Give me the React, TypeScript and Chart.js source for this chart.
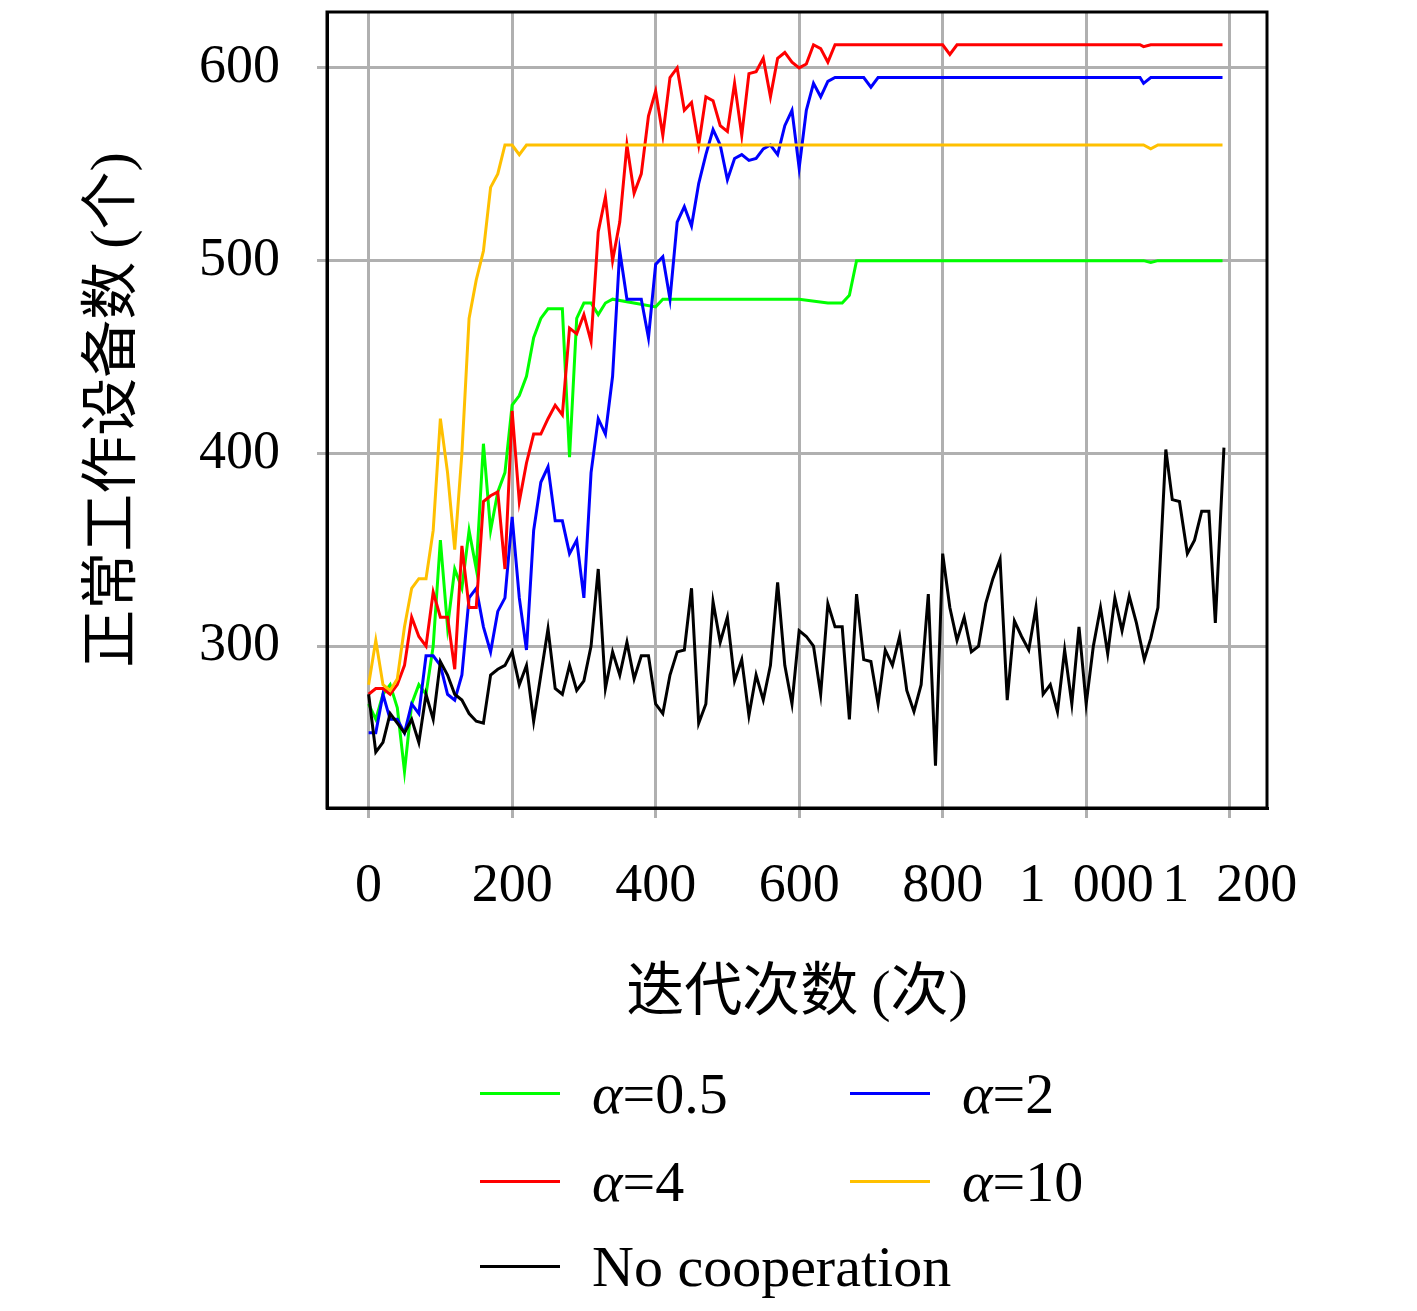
import React, { useEffect, useRef } from "react";
import { Chart, registerables } from "chart.js";
Chart.register(...registerables);

type P = [number, number];
const green05: P[] = [[0,270],[10,262],[20,275],[30,280],[40,268],[50,235],[60,270],[70,280],[80,275],[90,300],[100,355],[110,310],[120,340],[130,330],[140,360],[150,340],[160,405],[170,360],[180,380],[190,390],[200,425],[210,430],[220,440],[230,460],[240,470],[250,475],[260,475],[270,475],[280,398],[290,470],[300,478],[310,478],[320,472],[330,478],[340,480],[400,476],[410,480],[600,480],[640,478],[660,478],[670,482],[680,500],[1080,500],[1090,499],[1100,500],[1190,500]];
const blue2: P[] = [[0,255],[10,255],[20,275],[30,262],[40,262],[50,255],[60,270],[70,265],[80,295],[90,295],[100,290],[110,275],[120,272],[130,285],[140,325],[150,330],[160,310],[170,297],[180,318],[190,325],[200,367],[210,325],[220,298],[230,360],[240,385],[250,393],[260,365],[270,365],[280,348],[290,355],[300,325],[310,390],[320,418],[330,410],[340,440],[350,505],[360,480],[370,480],[380,480],[390,460],[400,498],[410,502],[420,480],[430,520],[440,528],[450,518],[460,540],[470,555],[480,568],[490,560],[500,542],[510,553],[520,555],[530,552],[540,553],[550,558],[560,560],[570,555],[580,570],[590,578],[600,548],[610,578],[620,592],[630,585],[640,593],[650,595],[690,595],[700,590],[710,595],[1075,595],[1080,592],[1090,595],[1190,595]];
const red4: P[] = [[0,275],[10,278],[20,278],[30,275],[40,280],[50,290],[60,315],[70,305],[80,300],[90,328],[100,315],[110,315],[120,288],[130,352],[140,320],[150,320],[160,375],[170,378],[180,380],[190,340],[200,422],[210,375],[220,395],[230,410],[240,410],[250,418],[260,425],[270,420],[280,465],[290,462],[300,472],[310,458],[320,515],[330,533],[340,500],[350,520],[360,560],[370,535],[380,545],[390,575],[400,588],[410,565],[420,595],[430,600],[440,578],[450,582],[460,560],[470,585],[480,583],[490,570],[500,567],[510,592],[520,565],[530,597],[540,598],[550,605],[560,585],[570,605],[580,608],[590,603],[600,600],[610,602],[620,612],[630,610],[640,603],[650,612],[800,612],[810,607],[820,612],[1075,612],[1080,611],[1090,612],[1190,612]];
const yellow10: P[] = [[0,280],[10,303],[20,280],[30,277],[40,283],[50,310],[60,330],[70,335],[80,335],[90,360],[100,418],[110,390],[120,350],[130,400],[140,470],[150,490],[160,505],[170,538],[180,545],[190,560],[200,560],[210,555],[220,560],[230,560],[1080,560],[1090,558],[1100,560],[1190,560]];
const noCoop: P[] = [[0,275],[10,245],[20,250],[30,265],[40,260],[50,255],[60,262],[70,250],[80,275],[90,262],[100,292],[110,285],[120,275],[130,272],[140,265],[150,261],[160,260],[170,285],[180,288],[190,290],[200,297],[210,280],[220,290],[230,261],[240,285],[250,309],[260,278],[270,275],[280,290],[290,277],[300,282],[310,300],[320,340],[330,278],[340,297],[350,285],[360,302],[370,283],[380,295],[390,295],[400,270],[410,265],[420,285],[430,297],[440,298],[450,330],[460,260],[470,270],[480,323],[490,302],[500,315],[510,282],[520,293],[530,264],[540,285],[550,272],[560,290],[570,333],[580,290],[590,270],[600,308],[610,305],[620,300],[630,275],[640,322],[650,310],[660,310],[670,262],[680,327],[690,293],[700,292],[710,270],[720,298],[730,290],[740,305],[750,277],[760,266],[770,280],[780,327],[790,238],[800,348],[810,320],[820,303],[830,315],[840,297],[850,300],[860,322],[870,335],[880,345],[890,272],[900,313],[910,305],[920,298],[930,320],[940,275],[950,280],[960,266],[970,298],[980,270],[990,310],[1000,270],[1010,300],[1020,320],[1030,296],[1040,325],[1050,308],[1060,326],[1070,312],[1081,293],[1090,304],[1100,320],[1111,402],[1120,376],[1130,375],[1141,348],[1151,355],[1161,370],[1171,370],[1180,312],[1192,403]];
const xTicks = [0, 200, 400, 600, 800, 1000, 1200];
const yTicks = [300, 400, 500, 600];

const serif = "'Liberation Serif', 'DejaVu Serif', serif";
const cjk = "'Noto Sans CJK SC', serif";

const series = [
  { label: "α=0.5", data: green05, color: "#00ff00" },
  { label: "α=2", data: blue2, color: "#0000ff" },
  { label: "α=4", data: red4, color: "#ff0000" },
  { label: "α=10", data: yellow10, color: "#ffc000" },
  { label: "No cooperation", data: noCoop, color: "#000000" },
];

const fmt = (v: number) => (v >= 1000 ? `${Math.floor(v / 1000)}\u2002${String(v % 1000).padStart(3, "0")}` : String(v));

export default function App() {
  const ref = useRef<HTMLCanvasElement>(null);
  useEffect(() => {
    const frame = {
      id: "frame",
      afterDraw(c: any) {
        const { ctx, chartArea: a } = c;
        ctx.save();
        ctx.strokeStyle = "#000";
        ctx.lineWidth = 3;
        ctx.strokeRect(a.left, a.top, a.right - a.left, a.bottom - a.top);
        const ys = c.scales.y;
        ctx.fillStyle = "#000";
        ctx.font = `54px ${serif}`;
        ctx.textAlign = "right";
        ctx.textBaseline = "middle";
        yTicks.forEach((v) => ctx.fillText(String(v), a.left - 47, ys.getPixelForValue(v)));
        ctx.restore();
      },
    };
    const chart = new Chart(ref.current!, {
      type: "line",
      data: {
        datasets: [...series].reverse().map((s) => ({
          label: s.label,
          data: s.data.map(([x, y]) => ({ x, y })),
          borderColor: s.color,
          borderWidth: 3,
          pointRadius: 0,
          tension: 0,
        })),
      },
      options: {
        animation: false,
        responsive: false,
        layout: { padding: { left: 0, top: 4, right: 142, bottom: 0 } },
        plugins: { legend: { display: false }, tooltip: { enabled: false } },
        scales: {
          x: {
            type: "linear",
            min: -58,
            max: 1252,
            afterBuildTicks: (s: any) => { s.ticks = xTicks.map((v) => ({ value: v })); },
            afterFit: (s: any) => { s.height = 495; },
            ticks: { callback: (v: any) => fmt(Number(v)), color: "#000", font: { family: serif, size: 54 }, padding: 36, maxRotation: 0, autoSkip: false },
            grid: { color: "#b0b0b0", lineWidth: 3, tickLength: 10 },
            border: { color: "#000", width: 3 },
          },
          y: {
            type: "linear",
            min: 216,
            max: 629,
            afterBuildTicks: (s: any) => { s.ticks = yTicks.map((v) => ({ value: v })); },
            afterFit: (s: any) => { s.width = 319; },
            ticks: { display: false },
            grid: { color: "#b0b0b0", lineWidth: 3, tickLength: 10 },
            border: { color: "#000", width: 3 },
          },
        },
      },
      plugins: [frame],
    } as any);
    return () => chart.destroy();
  }, []);

  const legendItem = (s: any, left: number, top: number) => (
    <div key={s.label} style={{ position: "absolute", left, top, display: "flex", alignItems: "center" }}>
      <div style={{ width: 80, height: 3, background: s.color, marginRight: 32 }} />
      <span style={{ fontFamily: serif, fontSize: 58, whiteSpace: "nowrap" }}>
        {s.label.startsWith("α") ? (<><i>α</i>{s.label.slice(1)}</>) : s.label}
      </span>
    </div>
  );

  return (
    <div style={{ position: "relative", width: 1401, height: 1295 }}>
      <canvas ref={ref} width={1401} height={1295} style={{ width: 1401, height: 1295 }} />
      <div style={{ position: "absolute", left: 797 - 8 - 300, width: 600, top: 935, textAlign: "center", fontSize: 58, fontFamily: cjk }}>
        迭代次数 <span style={{ fontFamily: serif }}>(</span>次<span style={{ fontFamily: serif }}>)</span>
      </div>
      <div style={{ position: "absolute", left: 97 - 350, top: 402 - 40, width: 700, height: 80, textAlign: "center", fontSize: 58, lineHeight: "80px", fontFamily: cjk, transform: "rotate(-90deg)" }}>
        正常工作设备数 <span style={{ fontFamily: serif }}>(</span>个<span style={{ fontFamily: serif }}>)</span>
      </div>
      {legendItem(series[0], 472, 1052)}
      {legendItem(series[1], 842, 1052)}
      {legendItem(series[2], 472, 1140)}
      {legendItem(series[3], 842, 1140)}
      {legendItem(series[4], 472, 1225)}
    </div>
  );
}
